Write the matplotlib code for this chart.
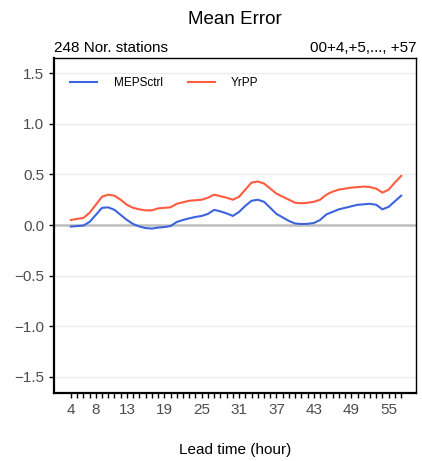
import numpy as np
import matplotlib
matplotlib.use("Agg")
import matplotlib.pyplot as plt

plt.rcParams['font.family'] = ['Liberation Sans', 'DejaVu Sans']

lead_time = list(range(4, 58))
mepsctrl = [-0.015, -0.01, -0.005, 0.03, 0.10, 0.17, 0.175, 0.15, 0.10, 0.05,
            0.01, -0.015, -0.03, -0.035, -0.025, -0.02, -0.01, 0.03, 0.05, 0.066,
            0.08, 0.09, 0.11, 0.15, 0.135, 0.115, 0.09, 0.13, 0.19, 0.24,
            0.25, 0.23, 0.17, 0.11, 0.075, 0.04, 0.015, 0.01, 0.012, 0.02,
            0.05, 0.105, 0.13, 0.155, 0.17, 0.185, 0.20, 0.205, 0.21, 0.20,
            0.155, 0.18, 0.235, 0.29]
yrpp = [0.05, 0.06, 0.07, 0.12, 0.20, 0.28, 0.30, 0.29, 0.25, 0.20,
        0.17, 0.155, 0.145, 0.145, 0.165, 0.17, 0.175, 0.21, 0.225, 0.24,
        0.245, 0.25, 0.27, 0.30, 0.285, 0.27, 0.25, 0.28, 0.35, 0.42,
        0.43, 0.41, 0.36, 0.31, 0.28, 0.25, 0.22, 0.215, 0.22, 0.23,
        0.25, 0.30, 0.33, 0.35, 0.36, 0.37, 0.375, 0.38, 0.375, 0.36,
        0.32, 0.35, 0.42, 0.485]
x_ticks = [4, 8, 13, 19, 25, 31, 37, 43, 49, 55]
y_ticks = [-1.5, -1.0, -0.5, 0.0, 0.5, 1.0, 1.5]

fig = plt.figure(figsize=(4.22, 4.61), dpi=100)
ax = fig.add_axes([0.128, 0.1475, 0.858, 0.7265])

for y in y_ticks:
    if y != 0:
        ax.axhline(y, color='#EBEBEB', lw=1.0, zorder=0)
ax.axhline(0, color='#BEBEBE', lw=1.8, zorder=1)

ax.plot(lead_time, mepsctrl, color='#3D63DD', lw=1.5, label='MEPSctrl', zorder=3)
ax.plot(lead_time, yrpp, color='#FF5B3F', lw=1.5, label='YrPP', zorder=3)

ax.set_xlim(1.3, 59.4)
ax.set_ylim(-1.66, 1.65)
ax.set_yticks(y_ticks)
ax.set_yticklabels([f'{v:.1f}'.replace('-', '\u2212') for v in y_ticks])
ax.set_xticks(x_ticks)
ax.set_xticks(lead_time, minor=True)
ax.tick_params(axis='both', which='both', length=3.5, width=1, color='black',
               labelcolor='#4D4D4D', labelsize=11)
for s in ax.spines.values():
    s.set_linewidth(1.0)
ax.spines['left'].set_linewidth(1.6)
ax.spines['bottom'].set_linewidth(1.6)

ax.set_xlabel('Lead time (hour)', fontsize=11, labelpad=19)
ax.text(0.0, 1.008, '248 Nor. stations', transform=ax.transAxes,
        ha='left', va='bottom', fontsize=11)
ax.text(1.0, 1.008, '00+4,+5,..., +57', transform=ax.transAxes,
        ha='right', va='bottom', fontsize=11)
fig.text(0.556, 0.958, 'Mean Error', ha='center', va='center', fontsize=13.5)

ax.legend(loc='upper left', ncol=2, frameon=False, fontsize=8.5,
          bbox_to_anchor=(0.015, 0.975), handlelength=2.3, columnspacing=2.1,
          handletextpad=1.4)

fig.savefig('out.png', dpi=100)
